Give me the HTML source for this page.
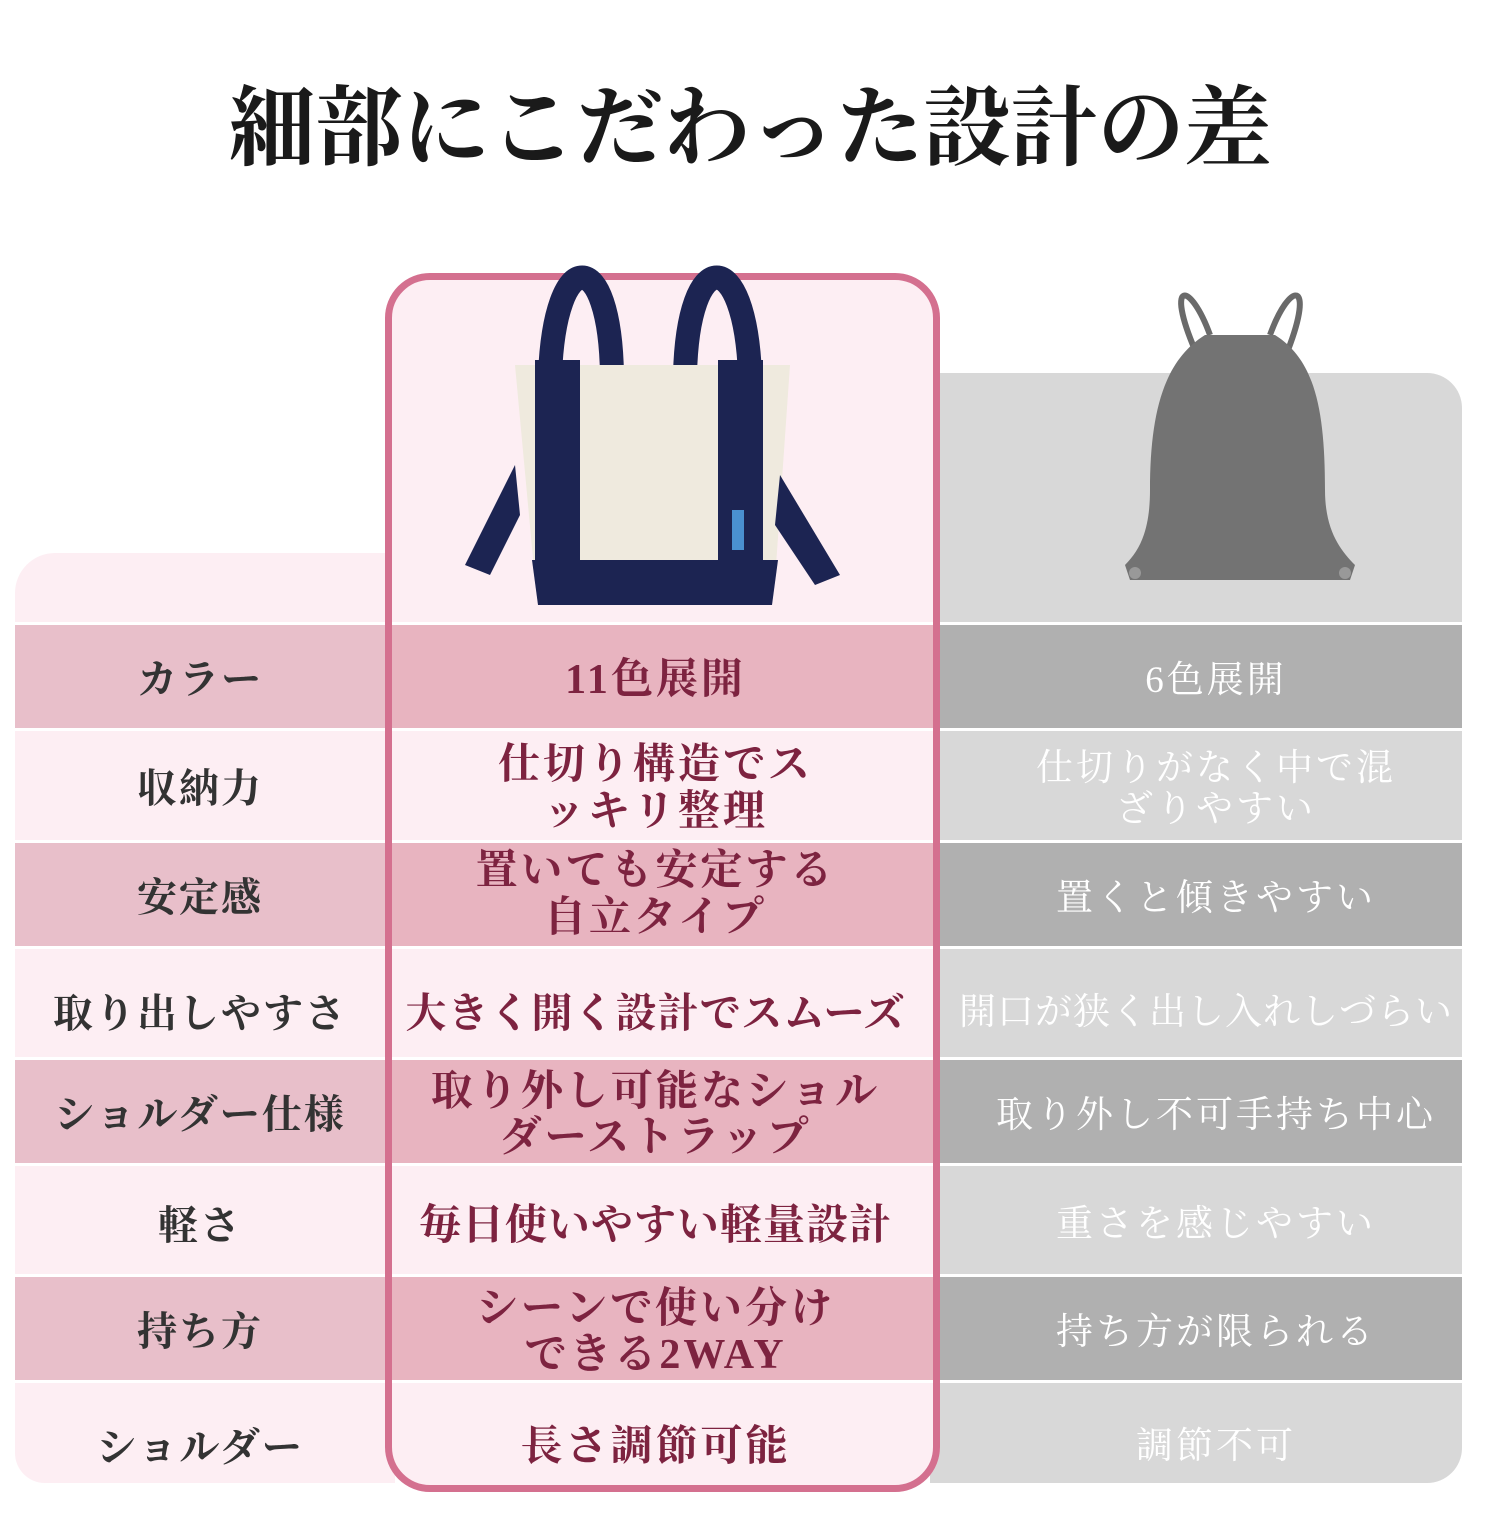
<!DOCTYPE html>
<html><head><meta charset="utf-8"><style>
body{margin:0;width:1500px;height:1500px;background:#fff;position:relative;overflow:hidden;font-family:"Liberation Serif","Noto Serif CJK SC","Noto Serif CJK JP",serif;}
.a{position:absolute;}
.t{position:absolute;display:flex;align-items:center;justify-content:center;text-align:center;font-weight:bold;line-height:1.1;}
.L{left:15px;width:370px;color:#333;font-size:40px;letter-spacing:2px;}
.M{left:385px;width:541px;color:#7d2340;font-size:42px;letter-spacing:3px;}
.R{left:955px;width:522px;color:#fff;font-size:37px;letter-spacing:3px;font-weight:normal;}
</style></head><body>
<div class="a" style="left:0;top:58px;width:1500px;text-align:center;font-size:87px;font-weight:bold;color:#1a1a1a;font-family:'Noto Serif CJK JP','Noto Serif CJK SC',serif;">細部にこだわった設計の差</div>

<div class="a" style="left:15px;top:553px;width:380px;height:930px;background:#fdeef3;border-radius:40px 0 0 30px;"></div>
<div class="a" style="left:930px;top:373px;width:532px;height:1110px;background:#d8d8d8;border-radius:0 35px 35px 0;"></div>
<div class="a" style="left:385px;top:273px;width:555px;height:1219px;background:#fdeef3;border-radius:45px;"></div>

<!-- rows -->
<div class="a" style="left:15px;top:622px;width:1447px;height:3px;background:#fff"></div>
<div class="a" style="left:15px;top:625px;width:1447px;height:103px;background:#e8b4c0"></div>
<div class="a" style="left:940px;top:625px;width:522px;height:103px;background:#b0b0b0"></div>
<div class="a" style="left:15px;top:728px;width:1447px;height:3px;background:#fff"></div>
<div class="a" style="left:15px;top:840px;width:1447px;height:3px;background:#fff"></div>
<div class="a" style="left:15px;top:843px;width:1447px;height:103px;background:#e8b4c0"></div>
<div class="a" style="left:940px;top:843px;width:522px;height:103px;background:#b0b0b0"></div>
<div class="a" style="left:15px;top:946px;width:1447px;height:3px;background:#fff"></div>
<div class="a" style="left:15px;top:1057px;width:1447px;height:3px;background:#fff"></div>
<div class="a" style="left:15px;top:1060px;width:1447px;height:103px;background:#e8b4c0"></div>
<div class="a" style="left:940px;top:1060px;width:522px;height:103px;background:#b0b0b0"></div>
<div class="a" style="left:15px;top:1163px;width:1447px;height:3px;background:#fff"></div>
<div class="a" style="left:15px;top:1274px;width:1447px;height:3px;background:#fff"></div>
<div class="a" style="left:15px;top:1277px;width:1447px;height:103px;background:#e8b4c0"></div>
<div class="a" style="left:940px;top:1277px;width:522px;height:103px;background:#b0b0b0"></div>
<div class="a" style="left:15px;top:1380px;width:1447px;height:3px;background:#fff"></div>
<div class="a" style="left:15px;top:625px;width:370px;height:103px;background:#e8bfca"></div>
<div class="a" style="left:15px;top:843px;width:370px;height:103px;background:#e8bfca"></div>
<div class="a" style="left:15px;top:1060px;width:370px;height:103px;background:#e8bfca"></div>
<div class="a" style="left:15px;top:1277px;width:370px;height:103px;background:#e8bfca"></div>

<!-- middle border -->
<div class="a" style="left:385px;top:273px;width:541px;height:1205px;border:7px solid #d4708f;border-radius:45px;"></div>

<!-- tote bag -->
<svg class="a" style="left:460px;top:255px" width="390" height="360" viewBox="0 0 390 360">
<path d="M90 120 C95 -10 150 -10 152 120" stroke="#1c2452" stroke-width="24" fill="none"/>
<path d="M225 120 C228 -10 285 -10 290 120" stroke="#1c2452" stroke-width="24" fill="none"/>
<path d="M55 110 L330 110 L315 325 L75 325 Z" fill="#efeade"/>
<rect x="75" y="105" width="45" height="220" fill="#1c2452"/>
<rect x="258" y="105" width="45" height="220" fill="#1c2452"/>
<path d="M72 305 L318 305 L312 350 L78 350 Z" fill="#1c2452"/>
<path d="M55 210 L5 310 L30 320 L60 260 Z" fill="#1c2452"/>
<path d="M320 220 L380 320 L355 330 L315 270 Z" fill="#1c2452"/>
<rect x="272" y="255" width="12" height="40" fill="#4a90d0"/>
</svg>

<!-- drawstring bag -->
<svg class="a" style="left:1110px;top:290px" width="260" height="300" viewBox="0 0 260 300">
<path d="M85 60 C55 -10 80 -10 100 45" stroke="#6a6a6a" stroke-width="6" fill="none"/>
<path d="M160 45 C180 -10 205 -10 178 60" stroke="#6a6a6a" stroke-width="6" fill="none"/>
<path d="M95 45 L165 45 C205 70 215 120 215 200 C215 240 230 260 245 275 L240 290 L20 290 L15 275 C30 260 40 240 40 200 C40 120 55 70 95 45 Z" fill="#737373"/>
<circle cx="25" cy="283" r="6" fill="#999"/><circle cx="235" cy="283" r="6" fill="#999"/>
</svg>

<!-- text -->
<div class="t L" style="top:625px;height:110px">カラー</div>
<div class="t L" style="top:731px;height:115px">収納力</div>
<div class="t L" style="top:843px;height:110px">安定感</div>
<div class="t L" style="top:949px;height:130px">取り出しやすさ</div>
<div class="t L" style="top:1060px;height:110px">ショルダー仕様</div>
<div class="t L" style="top:1166px;height:120px">軽さ</div>
<div class="t L" style="top:1277px;height:110px">持ち方</div>
<div class="t L" style="top:1383px;height:130px">ショルダー</div>

<div class="t M" style="top:625px;height:110px">11色展開</div>
<div class="t M" style="top:731px;height:115px">仕切り構造でス<br>ッキリ整理</div>
<div class="t M" style="top:843px;height:103px">置いても安定する<br>自立タイプ</div>
<div class="t M" style="top:949px;height:130px;letter-spacing:1px;font-size:41px">大きく開く設計でスムーズ</div>
<div class="t M" style="top:1060px;height:110px">取り外し可能なショル<br>ダーストラップ</div>
<div class="t M" style="top:1166px;height:120px;letter-spacing:1px">毎日使いやすい軽量設計</div>
<div class="t M" style="top:1277px;height:110px">シーンで使い分け<br>できる2WAY</div>
<div class="t M" style="top:1383px;height:128px">長さ調節可能</div>

<div class="t R" style="top:625px;height:112px">6色展開</div>
<div class="t R" style="top:731px;height:118px">仕切りがなく中で混<br>ざりやすい</div>
<div class="t R" style="top:843px;height:112px">置くと傾きやすい</div>
<div class="t R" style="top:949px;height:128px;letter-spacing:1px;left:945px">開口が狭く出し入れしづらい</div>
<div class="t R" style="top:1060px;height:112px">取り外し不可手持ち中心</div>
<div class="t R" style="top:1166px;height:118px">重さを感じやすい</div>
<div class="t R" style="top:1277px;height:112px">持ち方が限られる</div>
<div class="t R" style="top:1383px;height:128px">調節不可</div>
</body></html>
